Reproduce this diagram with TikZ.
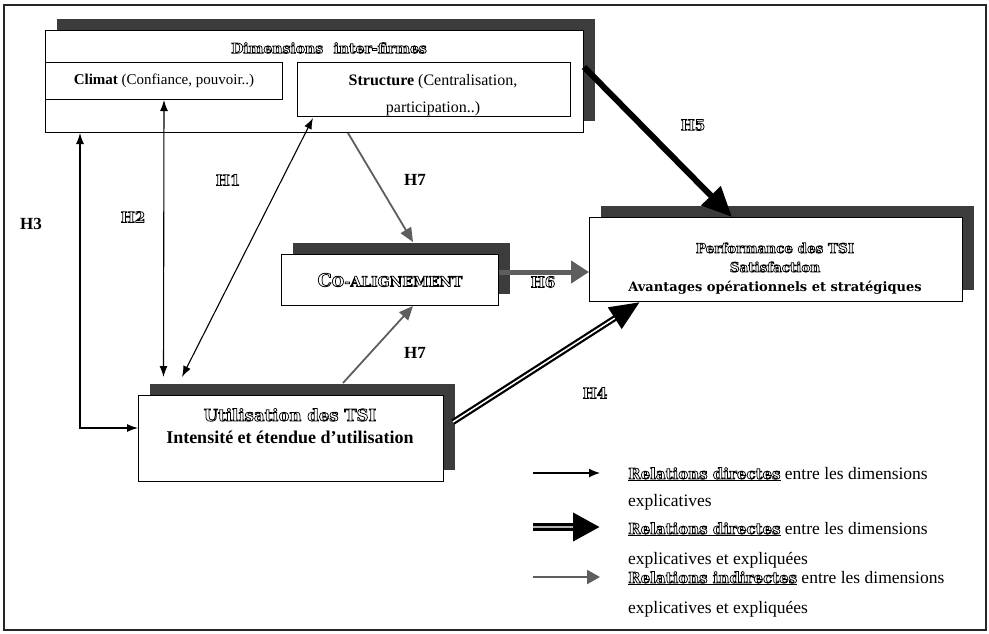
\documentclass[tikz,border=0pt]{standalone}
\usepackage{fontspec}
\setmainfont{Liberation Serif}
\newfontfamily\olfont{DejaVu Serif Bold}
\usetikzlibrary{arrows.meta,shadows}
\definecolor{shd}{HTML}{3C3C3C}
\definecolor{agray}{HTML}{5E5E5E}
\newcommand\olt[1]{\special{pdf:literal direct 1 Tr 0.75 w}#1\special{pdf:literal direct 0 Tr}}
\begin{document}
\begin{tikzpicture}[x=1pt,y=-1pt,
  box/.style={draw, line width=1pt, fill=white, inner sep=0pt, anchor=north west},
  shbox/.style={box, drop shadow={shadow xshift=11pt, shadow yshift=12pt, fill=shd, opacity=1}},
  olf/.style={font=\olfont\fontsize{15}{18}\selectfont, inner sep=0pt},
  blab/.style={font=\bfseries\fontsize{17}{20}\selectfont, inner sep=0pt},
  thinarr/.style={line width=1.1pt, {Latex[length=11pt,width=8pt]}-{Latex[length=11pt,width=8pt]}},
  grayarr/.style={draw=agray, line width=1.8pt, -{Triangle[length=14pt,width=12pt]}},
  legtext/.style={font=\fontsize{17.5}{27}\selectfont, align=left, inner sep=0pt, anchor=base west}
]
\path[use as bounding box] (0,0) rectangle (989,633);
\draw[line width=1.3pt, black!85] (4,5) rectangle (986,630);

% boxes
\node[shbox, minimum width=538pt, minimum height=102pt] (dim) at (45,30) {};
\node[box, minimum width=237pt, minimum height=37pt] (clim) at (45,62) {};
\node[box, minimum width=273pt, minimum height=54pt] (struc) at (297,62) {};
\node[shbox, minimum width=217pt, minimum height=51pt] (co) at (281,254) {};
\node[shbox, minimum width=373pt, minimum height=84pt] (perf) at (589,217) {};
\node[shbox, minimum width=305pt, minimum height=86pt] (util) at (138,395) {};

% box texts
\node[font=\olfont\fontsize{14}{16}\selectfont, inner sep=0pt] (dimt) at (329,48) {\olt{Dimensions\hspace{0.4em} inter-firmes}};
\node[font=\fontsize{15}{18}\selectfont, inner sep=0pt] (climt) at (clim.center) {\textbf{Climat} (Confiance, pouvoir..)};
\node[font=\fontsize{16}{27}\selectfont, align=center, inner sep=0pt] (struct) at (433,95) {\textbf{Structure} (Centralisation,\\participation..)};
\node[font=\olfont\fontsize{18}{18}\selectfont, inner sep=0pt] (cot) at (390,280) {\olt{C{\fontsize{14}{14}\selectfont O-ALIGNEMENT}}};
\node[font=\olfont\fontsize{13.5}{19}\selectfont, align=center, inner sep=0pt, anchor=base] (perft) at (775,291)
  {\olt{Performance des TSI}\\ \olt{Satisfaction}\\ {\fontsize{13}{19}\selectfont Avantages opérationnels et stratégiques}};
\node[align=center, inner sep=0pt, anchor=base, font=\fontsize{18}{22}\selectfont] (utilt) at (290,443)
  {{\olfont\fontsize{16.5}{16}\selectfont\olt{Utilisation des TSI}}\\ \textbf{Intensité et étendue d’utilisation}};

% thin double-headed arrows
\coordinate (h2b) at (163.5,377);
\draw[thinarr] (clim.south) -- (h2b);
\coordinate (h3c) at (80,428);
\draw[thinarr] (h3c |- dim.south) -- (h3c) -- (h3c -| util.west);
\coordinate (h1a) at (313,118);
\coordinate (h1b) at (182,377);
\draw[thinarr] (h1a) -- (h1b);

% gray arrows H7
\coordinate (h7ax) at (348,0);
\coordinate (h7ae) at (413,242);
\draw[grayarr] (h7ax |- dim.south) -- (h7ae);
\coordinate (h7bs) at (343,383);
\coordinate (h7bx) at (413,0);
\draw[grayarr] (h7bs) -- (h7bx |- co.south);

% H6
\coordinate (h6y) at (0,272);
\draw[draw=agray, line width=5pt, -{Triangle[length=18pt,width=22pt]}] (co.east |- h6y) -- (perf.west |- h6y);

% H5
\coordinate (h5y) at (0,67);
\coordinate (h5x) at (732,0);
\draw[line width=6pt, -{Triangle[length=30pt,width=26pt]}] (dim.east |- h5y) -- (h5x |- perf.north);

% H4
\coordinate (h4s) at (453,422);
\coordinate (h4x) at (640,0);
\coordinate (h4e) at (h4x |- perf.south);
\draw[line width=6pt, -{Triangle[length=30pt,width=24pt]}] (h4s) -- (h4e);
\draw[white, line width=1.5pt, shorten >=30pt] (h4s) -- (h4e);

% labels
\node[olf] (l1) at (228,180) {\olt{H1}};
\node[olf] (l2) at (133,217) {\olt{H2}};
\node[blab] (l3) at (31,224) {H3};
\node[blab] (l7a) at (415,180) {H7};
\node[blab] (l7b) at (415,353) {H7};
\node[olf] (l5) at (693,125) {\olt{H5}};
\node[olf] (l6) at (543,282) {\olt{H6}};
\node[olf] (l4) at (595,393) {\olt{H4}};

% legend
\coordinate (la1) at (533,473); \coordinate (lb1) at (600,473);
\draw[line width=1.2pt, -{Latex[length=11pt,width=9pt]}] (la1) -- (lb1);
\coordinate (la2) at (533,527); \coordinate (lb2) at (600,527);
\draw[line width=8pt, -{Triangle[length=27pt,width=27pt]}] (la2) -- (lb2);
\draw[gray!60, line width=2pt, shorten >=27pt] (la2) -- (lb2);
\coordinate (la3) at (533,577); \coordinate (lb3) at (600,577);
\draw[agray, line width=2.2pt, -{Triangle[length=13pt,width=14pt]}] (la3) -- (lb3);

\node[legtext] (t1) at (628,506) {\underline{{\olfont\fontsize{15}{16}\selectfont\olt{Relations directes}}} entre les dimensions\\explicatives};
\node[legtext] (t2) at (628,564) {\underline{{\olfont\fontsize{15}{16}\selectfont\olt{Relations directes}}} entre les dimensions\\[3pt]explicatives et expliquées};
\node[legtext] (t3) at (628,613) {\underline{{\olfont\fontsize{15}{16}\selectfont\olt{Relations indirectes}}} entre les dimensions\\[3pt]explicatives et expliquées};
\end{tikzpicture}
\end{document}
